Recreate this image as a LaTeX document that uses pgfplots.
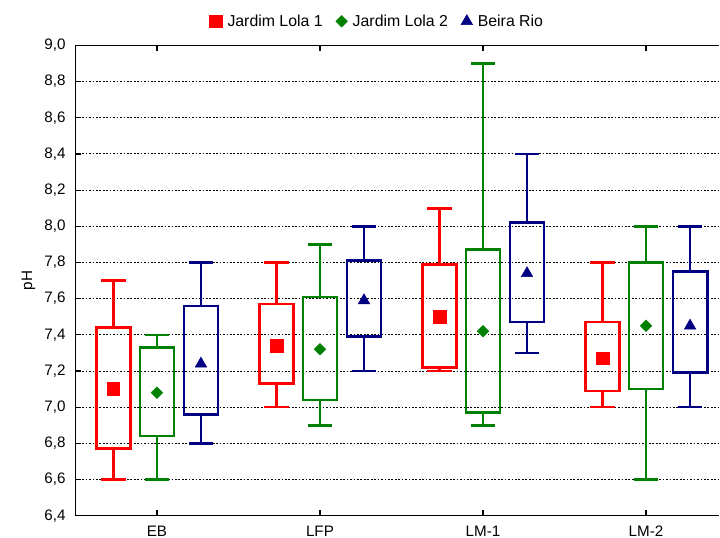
\documentclass[border=0pt]{standalone}
\usepackage{pgfplots}
\pgfplotsset{compat=1.18}
\usepackage{fontspec}
\setmainfont{Liberation Sans}
\definecolor{cred}{RGB}{255,0,0}
\definecolor{cgreen}{RGB}{0,128,0}
\definecolor{cblue}{RGB}{0,0,128}
\pgfplotsset{
  boxline/.style={forget plot, solid, line width=2pt, mark=none, unbounded coords=jump, line join=miter},
}
% \bx{colour}{position}{lower whisker}{lower quartile}{upper quartile}{upper whisker}
\newcommand{\bx}[6]{%
  \pgfmathsetmacro\xa{#2-0.105}\pgfmathsetmacro\xb{#2+0.105}%
  \pgfmathsetmacro\ca{#2-0.075}\pgfmathsetmacro\cb{#2+0.075}%
  \edef\tmp{\noexpand\addplot[boxline, draw=#1] coordinates {(\ca,#6) (\cb,#6) (#2,nan) (#2,#6) (#2,#5) (#2,nan) (#2,#4) (#2,#3) (#2,nan) (\ca,#3) (\cb,#3) (#2,nan) (#2,#5) (\xb,#5) (\xb,#4) (\xa,#4) (\xa,#5) (#2,#5)};}%
  \tmp}
\begin{document}
\begin{tikzpicture}
\begin{axis}[
  scale only axis,
  width=487.5pt, height=356pt,
  xmin=-0.5, xmax=3.45,
  ymin=6.4, ymax=9.0,
  axis x line=box, axis y line=left,
  axis line style={-, line width=0.9pt, black},
  xtick={0,1,2,3},
  xticklabels={EB,LFP,LM-1,LM-2},
  xtick pos=both,
  ytick={6.4,6.6,...,9.01},
  tick align=inside,
  major tick length=4pt,
  tick style={black, line width=0.9pt},
  ymajorgrids,
  grid style={black, line width=0.7pt, dash pattern=on 1.3pt off 1.3pt},
  /pgf/number format/.cd, fixed, fixed zerofill, precision=1, use comma, assume math mode=true,
  /pgfplots/.cd,
  ticklabel style={font=\fontsize{11.5}{13}\selectfont},
  yticklabel style={xshift=-4pt},
  xticklabel style={yshift=-6pt, inner ysep=1pt, text height=8.5pt, text depth=0pt},
  ylabel={\rule{0pt}{21pt}pH},
  ylabel style={font=\fontsize{11.5}{13}\selectfont},
  legend style={at={(0.5,1)}, anchor=south, xshift=-15pt, yshift=2pt, inner ysep=9pt, draw=none, fill=none,
    font=\fontsize{12}{14}\selectfont, legend columns=-1,
    /tikz/every even column/.append style={column sep=8pt},
    /tikz/every odd column/.append style={column sep=2pt}},
  legend cell align=left,
]
% EB
\bx{cred}{-0.267}{6.60}{6.77}{7.44}{7.70}
\bx{cgreen}{0}{6.60}{6.84}{7.33}{7.40}
\bx{cblue}{0.27}{6.80}{6.96}{7.56}{7.80}
% LFP
\bx{cred}{0.733}{7.00}{7.13}{7.57}{7.80}
\bx{cgreen}{1}{6.90}{7.04}{7.61}{7.90}
\bx{cblue}{1.27}{7.20}{7.39}{7.81}{8.00}
% LM-1
\bx{cred}{1.733}{7.20}{7.22}{7.79}{8.10}
\bx{cgreen}{2}{6.90}{6.97}{7.87}{8.90}
\bx{cblue}{2.27}{7.30}{7.47}{8.02}{8.40}
% LM-2
\bx{cred}{2.733}{7.00}{7.09}{7.47}{7.80}
\bx{cgreen}{3}{6.60}{7.10}{7.80}{8.00}
\bx{cblue}{3.27}{7.00}{7.19}{7.75}{8.00}
% means
\addplot[only marks, mark=square*, mark size=4.8pt, color=cred] coordinates {(-0.267,7.10) (0.733,7.34) (1.733,7.50) (2.733,7.27)};
\addlegendentry{Jardim Lola 1}
\addplot[only marks, mark=square*, mark size=3.1pt, mark options={rotate=45}, color=cgreen] coordinates {(0,7.08) (1,7.32) (2,7.42) (3,7.45)};
\addlegendentry{Jardim Lola 2}
\addplot[only marks, mark=triangle*, mark size=5pt, color=cblue] coordinates {(0.27,7.24) (1.27,7.59) (2.27,7.74) (3.27,7.45)};
\addlegendentry{Beira Rio}
\end{axis}
\end{tikzpicture}
\end{document}
